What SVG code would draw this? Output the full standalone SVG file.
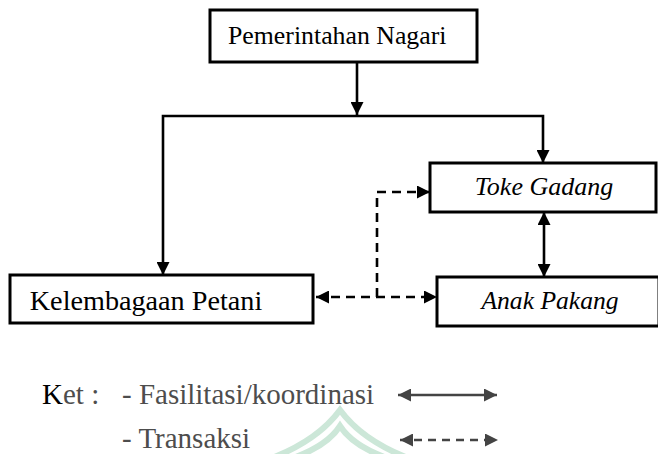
<svg xmlns="http://www.w3.org/2000/svg" width="658" height="454" viewBox="0 0 658 454">
<style>
.box{fill:#fff;stroke:#000;stroke-width:3}
.lbl{font-family:"Liberation Serif","Times New Roman",serif;fill:#000}
.it{font-style:italic}
.ln{fill:none;stroke:#000;stroke-width:2.6}
.dash{stroke-dasharray:9 6}
.leg{font-family:"Liberation Serif","Times New Roman",serif;fill:#4d4d4d;font-size:29px}
.wm{fill:none;stroke:#cce7d8;stroke-width:6}
</style>
<defs>
<marker id="ah" viewBox="0 0 13 13" refX="13" refY="6.5" markerWidth="13" markerHeight="13" markerUnits="userSpaceOnUse" orient="auto-start-reverse">
<path d="M0,0 L13,6.5 L0,13 z" fill="#000"/>
</marker>
<marker id="ahg" viewBox="0 0 13 13" refX="13" refY="6.5" markerWidth="13" markerHeight="13" markerUnits="userSpaceOnUse" orient="auto-start-reverse">
<path d="M0,0 L13,6.5 L0,13 z" fill="#444"/>
</marker>
</defs>
<g id="connectors">
<line class="ln" x1="357" y1="62" x2="357" y2="115" marker-end="url(#ah)"/>
<polyline class="ln" points="163,275 163,116 543,116 543,163" marker-start="url(#ah)" marker-end="url(#ah)"/>
<line class="ln" x1="544" y1="212" x2="544" y2="277" marker-start="url(#ah)" marker-end="url(#ah)"/>
<line class="ln dash" x1="316" y1="297" x2="437" y2="297" marker-start="url(#ah)" marker-end="url(#ah)"/>
<polyline class="ln dash" points="377,297 377,192 430,192" marker-end="url(#ah)"/>
</g>
<g id="pemerintahan">
<rect class="box" x="210" y="10" width="267" height="52"/>
<text class="lbl" x="228" y="44" font-size="25.8">Pemerintahan Nagari</text>
</g>
<g id="toke">
<rect class="box" x="430" y="163" width="226" height="49"/>
<text class="lbl it" x="544" y="195" font-size="26" text-anchor="middle">Toke Gadang</text>
</g>
<g id="anak">
<rect class="box" x="437" y="277" width="222" height="49"/>
<text class="lbl it" x="550" y="309" font-size="25.6" text-anchor="middle">Anak Pakang</text>
</g>
<g id="kelembagaan">
<rect class="box" x="10" y="275" width="303" height="48"/>
<text class="lbl" x="146" y="310" font-size="28.2" text-anchor="middle">Kelembagaan Petani</text>
</g>
<g id="legend">
<text class="leg" x="42" y="404"><tspan fill="#000">K</tspan>et :</text>
<text class="leg" x="122" y="404">- Fasilitasi/koordinasi</text>
<text class="leg" x="122" y="448">- Transaksi</text>
<line x1="398" y1="395" x2="497" y2="395" stroke="#444" stroke-width="2.6" marker-start="url(#ahg)" marker-end="url(#ahg)"/>
<line x1="400" y1="440" x2="498" y2="440" stroke="#444" stroke-width="2.6" stroke-dasharray="8 6" marker-start="url(#ahg)" marker-end="url(#ahg)"/>
</g>
<g id="watermark">
<path class="wm" d="M272,458 Q318,440 340,410 Q362,440 408,458"/>
<path class="wm" d="M293,458 Q327,446 340,426 Q353,446 387,458"/>
</g>
</svg>
